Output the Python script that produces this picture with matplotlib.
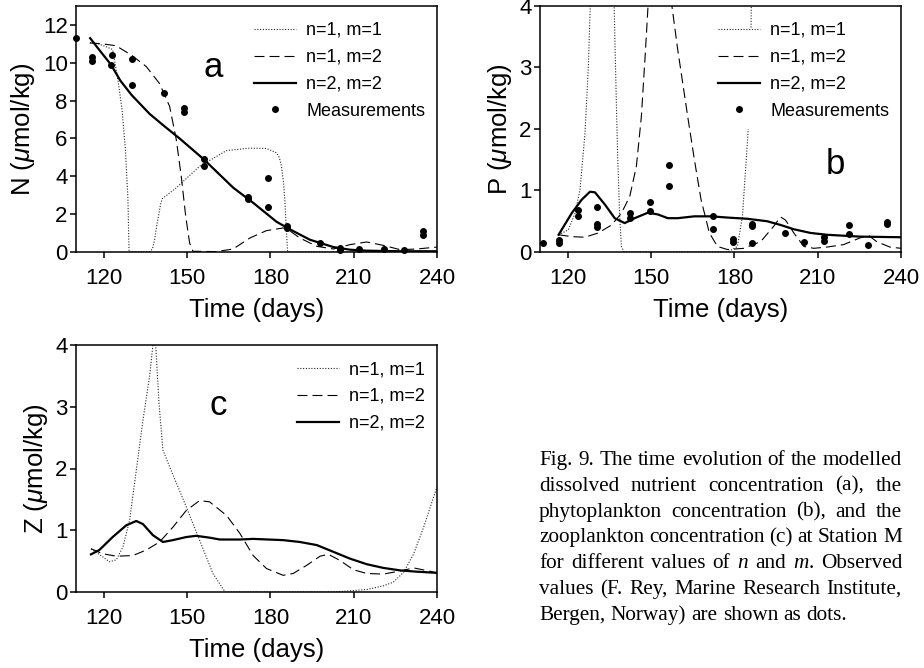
import numpy as np
import matplotlib
matplotlib.use("Agg")
import matplotlib.pyplot as plt
from matplotlib.lines import Line2D

plt.rcParams['font.family'] = ['Liberation Sans', 'DejaVu Sans']
plt.rcParams['mathtext.fontset'] = 'custom'
plt.rcParams['mathtext.rm'] = 'Liberation Sans'
plt.rcParams['mathtext.it'] = 'Liberation Sans:italic'

# ---- panel a : nutrient N ----
a_obs_day = [110.1, 115.9, 115.9, 122.9, 122.6, 130, 130, 141.8, 149, 149, 156, 156,
             171.9, 171.9, 179, 179, 186, 186, 198, 205, 205, 212, 221, 228, 235, 235]
a_obs_val = [11.32, 10.3, 10.1, 10.4, 9.9, 10.2, 8.8, 8.4, 7.6, 7.4, 4.9, 4.55,
             2.9, 2.8, 3.9, 2.4, 1.4, 1.27, 0.46, 0.2, 0.1, 0.14, 0.16, 0.12, 1.13, 0.9]

a_n11_day = [115, 118, 120.8, 123.2, 125.1, 126.6, 127.8, 128.7, 129.1, 136.5, 137.5, 138.3,
             139.2, 139.9, 140.5, 141.1, 146.1, 154.5, 164.2, 172.6, 178.6, 182.2, 183.2,
             184, 184.7, 185.2, 185.7, 186.2, 240]
a_n11_val = [11.05, 11.0, 10.85, 10.7, 9.1, 7.5, 5.4, 2.8, 0, 0.02, 0.15, 0.65,
             1.5, 2.06, 2.55, 2.82, 3.39, 4.53, 5.36, 5.49, 5.47, 5.24, 5.0,
             4.53, 3.7, 2.77, 1.3, 0, 0]

a_n12_day = [115, 119.6, 124.4, 130, 135.3, 140.1, 143.7, 146.1, 147.9, 149.5, 150.9, 152.1,
             160.6, 166.6, 172.6, 178.6, 184.6, 186.4, 190.6, 196.7, 202.7, 208.7, 214.7,
             220.7, 226.8, 232.8, 240]
a_n12_val = [11.05, 11.0, 10.9, 10.4, 9.8, 8.9, 7.7, 5.95, 4.0, 1.9, 0.48, 0.04,
             0.02, 0.16, 0.74, 1.13, 1.27, 1.18, 0.74, 0.3, 0.16, 0.39, 0.53,
             0.35, 0.12, 0.16, 0.26]

a_n22_day = [115.1, 118, 122.6, 126, 130, 136.5, 141.8, 147.3, 156, 166.6, 173.8, 182.2,
             187, 194.2, 202.7, 208.7, 214.7, 226.8, 240]
a_n22_val = [11.3, 10.75, 9.9, 9.05, 8.3, 7.3, 6.65, 6.0, 4.9, 3.4, 2.6, 1.6,
             1.2, 0.65, 0.26, 0.12, 0.07, 0.04, 0.04]

# ---- panel b : phytoplankton P ----
b_obs_day = [111, 116.8, 116.8, 123.6, 123.6, 130.7, 130.7, 130.7, 142.4, 142.4, 149.6, 149.6,
             156.4, 156.4, 172.4, 172.4, 179.4, 179.4, 186.2, 186.2, 186.2, 198.4, 205.2,
             212.1, 212.1, 221.1, 221.1, 228.1, 234.9, 234.9]
b_obs_val = [0.15, 0.19, 0.15, 0.69, 0.59, 0.73, 0.45, 0.4, 0.63, 0.55, 0.81, 0.66,
             1.41, 1.08, 0.59, 0.38, 0.21, 0.17, 0.45, 0.42, 0.15, 0.31, 0.17,
             0.24, 0.18, 0.44, 0.29, 0.11, 0.48, 0.46]

b_n11_day = [116.7, 120.2, 122.6, 124.4, 126.2, 127.4, 128.1, 132.4, 136.7, 137.2, 137.9,
             138.7, 139.3, 140.3, 177.5, 181.1, 182.9, 184.1, 185.0, np.nan, 186.0, 186.1]
b_n11_val = [0.28, 0.36, 0.63, 1.01, 1.93, 3.0, 4.0, 12.0, 4.0, 3.0, 1.66,
             0.58, 0.09, 0.0, 0.0, 0.09, 0.58, 1.39, 2.0, np.nan, 3.65, 4.1]

b_n12_day = [116.7, 121.4, 126.2, 131, 135.8, 139.3, 142.3, 144.7, 146.5, 148, 148.9, 153.2,
             157.5, 159.6, 163.2, 165.6, 168, 171, 173.9, 177.5, 183.5, 189.5, 194.2,
             196.6, 198.4, 201.4, 205, 208.6, 213.3, 219.3, 225.3, 228.3, 231.2, 236, 240]
b_n12_val = [0.28, 0.25, 0.24, 0.31, 0.44, 0.63, 0.9, 1.39, 2.2, 3.29, 4.0, 6.0,
             4.0, 3.29, 2.2, 1.5, 0.85, 0.31, 0.09, 0.04, 0.06, 0.17, 0.42,
             0.57, 0.52, 0.31, 0.09, 0.06, 0.08, 0.12, 0.23, 0.27, 0.17, 0.08, 0.06]

b_n22_day = [116.7, 121.4, 125, 128, 129.8, 133.4, 136.9, 140.5, 144.1, 148.9, 152.5, 156,
             159.6, 165.6, 171.6, 177.5, 184.7, 191.8, 196.6, 201.4, 207.4, 213.3, 225.3, 240]
b_n22_val = [0.28, 0.63, 0.85, 0.98, 0.97, 0.77, 0.55, 0.47, 0.55, 0.64, 0.61, 0.55,
             0.55, 0.58, 0.58, 0.56, 0.54, 0.5, 0.44, 0.37, 0.31, 0.28, 0.25, 0.24]

# ---- panel c : zooplankton Z ----
c_n11_day = [115.4, 119.6, 122, 124.5, 126.9, 129.3, 131.7, 134.1, 136.5, 137.7, 138.2,
             138.7, 139.9, 140.7, 141.3, 143.7, 149.7, 154.5, 159.3, 163.7, 202.7, 208.7,
             214.7, 220.7, 224.3, 228, 231.6, 235.2, 237.6, 240]
c_n11_val = [0.7, 0.57, 0.49, 0.52, 0.73, 1.16, 1.97, 2.78, 3.49, 4.0, 4.6,
             4.0, 3.05, 2.62, 2.3, 2.03, 1.38, 0.84, 0.3, 0.0, 0.0, 0.02,
             0.04, 0.1, 0.16, 0.32, 0.62, 1.05, 1.38, 1.7]

c_n12_day = [115.4, 119.6, 124.5, 130.5, 135.3, 140.1, 144.9, 149.7, 154.5, 158.1, 164.2, 169,
             173.8, 178.6, 184.6, 188.2, 193, 197.9, 200.9, 205.1, 209.9, 214.7, 220.7,
             226.7, 231.6, 236, 240]
c_n12_val = [0.7, 0.62, 0.58, 0.59, 0.68, 0.81, 1.05, 1.32, 1.48, 1.46, 1.24, 0.95,
             0.59, 0.38, 0.27, 0.3, 0.43, 0.58, 0.61, 0.51, 0.36, 0.3, 0.29,
             0.34, 0.39, 0.35, 0.31]

c_n22_day = [115.4, 118.4, 123.2, 128.1, 131.7, 134.1, 137.7, 141.3, 144.9, 149.7, 153.3, 158.1,
             161.8, 169, 173.8, 184.6, 190.6, 196.7, 202.7, 208.7, 214.7, 220.7, 226.7,
             232.4, 240]
c_n22_val = [0.61, 0.68, 0.89, 1.08, 1.15, 1.1, 0.92, 0.81, 0.84, 0.89, 0.91, 0.88,
             0.85, 0.85, 0.86, 0.84, 0.81, 0.76, 0.65, 0.54, 0.45, 0.39, 0.35,
             0.33, 0.31]

x_ticks = [120, 150, 180, 210, 240]
labels = ["n=1, m=1", "n=1, m=2", "n=2, m=2", "Measurements"]

caption = [
    "Fig. 9. The time evolution of the modelled",
    "dissolved nutrient concentration (a), the",
    "phytoplankton concentration (b), and the",
    "zooplankton concentration (c) at Station M",
    "for different values of *n* and *m*. Observed",
    "values (F. Rey, Marine Research Institute,",
    "Bergen, Norway) are shown as dots.",
]

W, H = 924, 668
fig = plt.figure(figsize=(W / 100, H / 100), dpi=100)

dot_style = dict(color='0.15', lw=0.8, linestyle=(0, (1, 1.5)))
dash_style = dict(color='black', lw=0.8, linestyle=(0, (9, 4.5)))
solid_style = dict(color='black', lw=1.6)


def setup(ax, ymax, yticks, ylabel):
    ax.set_xlim(110, 240)
    ax.set_ylim(0, ymax)
    ax.set_xticks(x_ticks)
    ax.set_yticks(yticks)
    ax.tick_params(direction='out', length=4.5, width=1.1, labelsize=16)
    ax.tick_params(axis='x', pad=7)
    ax.tick_params(axis='y', pad=1.5)
    for s in ax.spines.values():
        s.set_linewidth(1.1)
    ax.set_xlabel("Time (days)", fontsize=18.5, labelpad=6.5)
    ax.set_ylabel(ylabel, fontsize=18.5, labelpad=4)


def legend(ax, x, with_obs=True):
    handles = [Line2D([], [], **dot_style), Line2D([], [], **dash_style),
               Line2D([], [], **solid_style)]
    labs = labels[:3]
    if with_obs:
        handles.append(Line2D([], [], marker='o', ms=4, color='black', ls='none'))
        labs = labels
    ax.legend(handles, labs, loc='upper left', bbox_to_anchor=(x, 0.935),
              frameon=False, fontsize=13, handlelength=2.35, handletextpad=0.55,
              labelspacing=0.55, borderpad=0, borderaxespad=0, numpoints=1)


ax_a = fig.add_axes([76 / W, 1 - 252 / H, 361 / W, 246 / H])
ax_a.plot(a_n11_day, a_n11_val, **dot_style)
ax_a.plot(a_n12_day, a_n12_val, **dash_style)
ax_a.plot(a_n22_day, a_n22_val, **solid_style)
ax_a.plot(a_obs_day, a_obs_val, 'o', ms=4, color='black', clip_on=False)
setup(ax_a, 13, [0, 2, 4, 6, 8, 10, 12], r"N ($\mu$mol/kg)")
legend(ax_a, 0.493)
ax_a.text(0.38, 0.752, "a", transform=ax_a.transAxes, fontsize=25, ha='center', va='center')

ax_b = fig.add_axes([540 / W, 1 - 252 / H, 361 / W, 246 / H])
ax_b.plot(b_n11_day, b_n11_val, **dot_style)
ax_b.plot(b_n12_day, b_n12_val, **dash_style)
ax_b.plot(b_n22_day, b_n22_val, **solid_style)
ax_b.plot(b_obs_day, b_obs_val, 'o', ms=4, color='black', clip_on=False)
setup(ax_b, 4, [0, 1, 2, 3, 4], r"P ($\mu$mol/kg)")
legend(ax_b, 0.493)
ax_b.text(0.817, 0.354, "b", transform=ax_b.transAxes, fontsize=25, ha='center', va='center')

ax_c = fig.add_axes([76 / W, 1 - 592 / H, 361 / W, 247 / H])
ax_c.plot(c_n11_day, c_n11_val, **dot_style)
ax_c.plot(c_n12_day, c_n12_val, **dash_style)
ax_c.plot(c_n22_day, c_n22_val, **solid_style)
setup(ax_c, 4, [0, 1, 2, 3, 4], r"Z ($\mu$mol/kg)")
legend(ax_c, 0.612, with_obs=False)
ax_c.text(0.393, 0.757, "c", transform=ax_c.transAxes, fontsize=25, ha='center', va='center')

# justified caption, words placed one by one
renderer = fig.canvas.get_renderer()
cap_font = dict(fontsize=15.3, family='Liberation Serif')


def text_w(s, style):
    t = fig.text(0, 0, s, style=style, **cap_font)
    w = t.get_window_extent(renderer).width
    t.remove()
    return w


def segments(word):
    parts = word.split('*')
    return [(p, 'italic' if i % 2 else 'normal') for i, p in enumerate(parts) if p]


space_w = text_w("a a", 'normal') - text_w("aa", 'normal')
x0, x1, y0, dy = 539, 902, 465, 25.8
for i, line in enumerate(caption):
    words = [segments(w) for w in line.split()]
    widths = [sum(text_w(s, st) for s, st in w) for w in words]
    if i == len(caption) - 1:
        gap = space_w
    else:
        gap = (x1 - x0 - sum(widths)) / (len(words) - 1)
    x = x0
    y = y0 + i * dy
    for w, ww in zip(words, widths):
        xx = x
        for s, st in w:
            fig.text(xx / W, 1 - y / H, s, style=st, va='baseline', ha='left', **cap_font)
            xx += text_w(s, st)
        x += ww + gap

fig.savefig("out.png", dpi=100)
